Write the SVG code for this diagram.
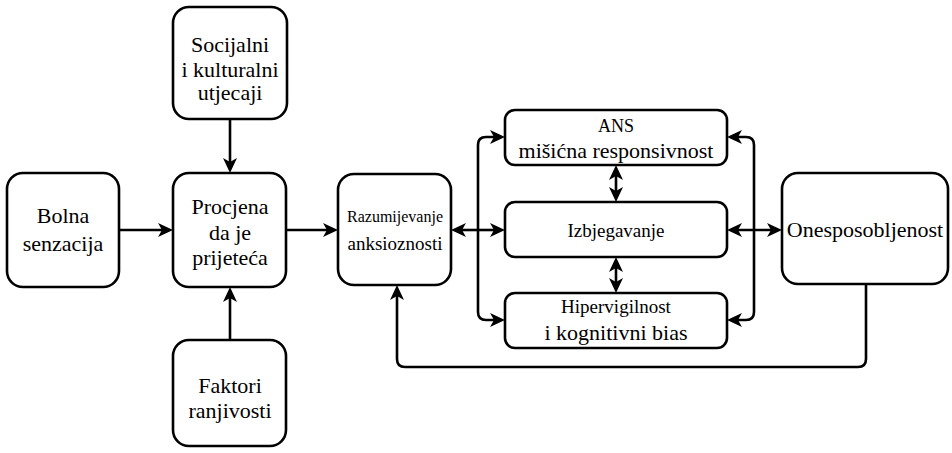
<svg xmlns="http://www.w3.org/2000/svg" width="952" height="453" viewBox="0 0 952 453">
  <style>
    .box { fill: #ffffff; stroke: #000000; stroke-width: 2.6; }
    .lbl { font-family: 'Liberation Serif', 'DejaVu Serif', 'Noto Serif', Tinos, 'Times New Roman', Times, serif; font-size: 22px; fill: #000000; text-anchor: middle; }
    .sm { font-size: 16px; }
    .md { font-size: 19px; }
    .an { font-size: 18px; }
    .edge { fill: none; stroke: #000000; stroke-width: 2.6; }
    .arr { marker-end: url(#ah); }
    .both { marker-start: url(#ah); marker-end: url(#ah); }
  </style>
  <defs>
    <marker id="ah" viewBox="0 0 15 14" markerWidth="15" markerHeight="14" refX="4" refY="7" orient="auto-start-reverse" markerUnits="userSpaceOnUse">
      <path d="M0,0 L15,7 L0,14 L4,7 Z" fill="#000000"/>
    </marker>
  </defs>

  <g id="connectors">
    <path class="edge arr" d="M119,230 H162"/>
    <path class="edge arr" d="M286,230 H327"/>
    <path class="edge arr" d="M230,119 V162"/>
    <path class="edge arr" d="M230,340 V298"/>
    <path class="edge both" d="M462,230 H494"/>
    <path class="edge both" d="M494,137 H486 Q478,137 478,145 V312 Q478,320 486,320 H494"/>
    <path class="edge both" d="M738,137 H746 Q754,137 754,145 V312 Q754,320 746,320 H738"/>
    <path class="edge both" d="M738,230 H771"/>
    <path class="edge both" d="M616,176 V191"/>
    <path class="edge both" d="M616,268 V282"/>
    <path class="edge arr" d="M866,284 V359 Q866,367 858,367 H405 Q397,367 397,359 V296"/>
  </g>

  <g id="bolna">
    <rect class="box" x="7" y="173" width="112" height="114" rx="16"/>
    <text class="lbl" x="63" y="223">Bolna</text>
    <text class="lbl" x="63" y="251">senzacija</text>
  </g>

  <g id="procjena">
    <rect class="box" x="173" y="173" width="113" height="114" rx="16"/>
    <text class="lbl" x="230" y="214">Procjena</text>
    <text class="lbl" x="230" y="240">da je</text>
    <text class="lbl" x="230" y="265">prijeteća</text>
  </g>

  <g id="socijalni">
    <rect class="box" x="173" y="7" width="114" height="112" rx="16"/>
    <text class="lbl" x="230" y="52">Socijalni</text>
    <text class="lbl" x="230" y="77">i kulturalni</text>
    <text class="lbl" x="230" y="100">utjecaji</text>
  </g>

  <g id="faktori">
    <rect class="box" x="173" y="340" width="113" height="106" rx="16"/>
    <text class="lbl" x="230" y="393">Faktori</text>
    <text class="lbl" x="230" y="418">ranjivosti</text>
  </g>

  <g id="razumijevanje">
    <rect class="box" x="338" y="174" width="113" height="111" rx="16"/>
    <text class="lbl sm" x="395" y="222">Razumijevanje</text>
    <text class="lbl md" x="395" y="250">anksioznosti</text>
  </g>

  <g id="ans">
    <rect class="box" x="505" y="110" width="222" height="55" rx="10"/>
    <text class="lbl an" x="616" y="132">ANS</text>
    <text class="lbl" x="616" y="158">mišićna responsivnost</text>
  </g>

  <g id="izbjegavanje">
    <rect class="box" x="505" y="202" width="222" height="55" rx="10"/>
    <text class="lbl md" x="616" y="237">Izbjegavanje</text>
  </g>

  <g id="hipervigilnost">
    <rect class="box" x="505" y="293" width="222" height="55" rx="10"/>
    <text class="lbl md" x="616" y="313">Hipervigilnost</text>
    <text class="lbl" x="616" y="340">i kognitivni bias</text>
  </g>

  <g id="onesposobljenost">
    <rect class="box" x="782" y="173" width="166" height="111" rx="16"/>
    <text class="lbl" x="865" y="237">Onesposobljenost</text>
  </g>
</svg>
